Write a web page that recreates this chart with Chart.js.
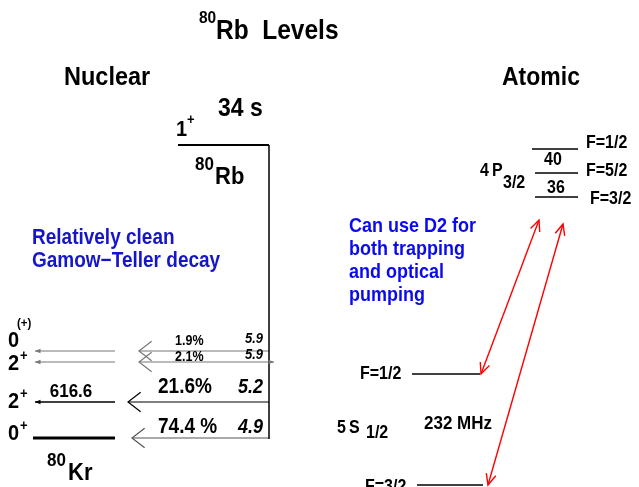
<!DOCTYPE html>
<html>
<head>
<meta charset="utf-8">
<script src="https://cdn.jsdelivr.net/npm/chart.js@4.4.1/dist/chart.umd.min.js"></script>
<style>
  html, body { margin: 0; padding: 0; background: #fff; }
  #wrap { width: 639px; height: 487px; }
</style>
</head>
<body>
<div id="wrap"><canvas id="levels" width="639" height="487"></canvas></div>
<script>
// 80Rb -> 80Kr beta decay levels, plus the Rb D2 hyperfine structure.
// Diagram units: x 0..639 left to right, y 0..487 top to bottom.

// --- nuclear side: 80Kr daughter levels, ground state first
const krSpin = ['0', '2', '2', '0'];
const krParity = ['+', '+', '+', '(+)'];
const krLevelY = [438, 402, 362, 351];
const krGamma = ['', '616.6', '', ''];
const branchPct = ['74.4 %', '21.6%', '2.1%', '1.9%'];
const logFt = ['4.9', '5.2', '5.9', '5.9'];

const parentSpin = '1';
const parentParity = '+';
const parentHalfLife = '34 s';
const parentLevelY = 145;

// --- atomic side: Rb 4P3/2 and 5S1/2 hyperfine levels
const p32Levels = ['F=3/2', 'F=5/2', 'F=1/2'];
const p32LevelY = [197, 173, 149];
const p32Splits = ['36', '40'];
const s12Levels = ['F=3/2', 'F=1/2'];
const s12LevelY = [485, 374];
const s12Split = '232 MHz';
// D2 lines: 5S1/2 F index -> end point on the 4P3/2 side
const d2From = [1, 0];
const d2ToY = [220, 224];

// ---------------------------------------------------------------
const FONT = '"Liberation Sans", Arial, Helvetica, sans-serif';
const STRETCH = 1.12;
const BLUE_L = '#1616c8';
const BLUE_R = '#0a0aee';

const datasets = [];
function seg(x0, y0, x1, y1, color, width, heads) {
    datasets.push({
        data: [{x: x0, y: y0}, {x: x1, y: y1}],
        showLine: true,
        borderColor: color,
        borderWidth: width,
        pointRadius: 0,
        fill: false,
        heads: heads || null
    });
}

// parent level and the decay trunk
seg(178, parentLevelY, 269, parentLevelY, '#000', 2);
seg(269, parentLevelY, 269, krLevelY[0] + 1, '#000', 1.5);

// daughter levels
const krWidth = [3, 1.3, 1.2, 1.2];
const krColor = ['#000', '#000', '#777', '#777'];
krLevelY.forEach((y, i) => {
    seg(115, y, i === 0 ? 33 : 35, y, krColor[i], krWidth[i],
        i === 0 ? null : {end: 'fill', color: krColor[i]});
});

// beta branches
const tipX = [132, 128, 139, 139];
const branchColor = ['#555', '#000', '#777', '#777'];
krLevelY.forEach((y, i) => {
    const heads = {end: 'open', color: branchColor[i], len: 16, ang: 0.66};
    if (i === 2) heads.start = 'fill';
    seg(i === 2 ? 274 : 269, y, tipX[i], y, branchColor[i], 1.2, heads);
});

// 4P3/2 levels
const p32X = [[535, 578], [535, 578], [532, 578]];
p32LevelY.forEach((y, i) => seg(p32X[i][0], y, p32X[i][1], y, '#000', 1.3));

// 5S1/2 levels
const s12X = [[417, 483], [412, 480]];
s12LevelY.forEach((y, i) => seg(s12X[i][0], y, s12X[i][1], y, '#000', 1.3));

// D2 transitions
const d2FromX = [481, 488];
const d2ToX = [539, 563];
d2From.forEach((f, i) => {
    seg(d2FromX[i], s12LevelY[f], d2ToX[i], d2ToY[i], '#ff0000', 1.4,
        {start: 'open', end: 'open', color: '#ff0000', len: 12, ang: 0.42});
});

// ---------------------------------------------------------------
const texts = [];
function t(x, y, text, size, opt) {
    texts.push(Object.assign({x, y, text, size}, opt || {}));
}

t(199, 18, '80', 15.5);
t(216, 31, 'Rb  Levels', 24.5);
t(64, 78, 'Nuclear', 23.5);
t(502, 78, 'Atomic', 23);

t(218, 109, parentHalfLife, 23);
t(176, parentLevelY - 15, parentSpin, 20);
t(187, parentLevelY - 25, parentParity, 13);
t(195, parentLevelY + 20, '80', 17);
t(215, parentLevelY + 32, 'Rb', 22);

t(32, 238, 'Relatively clean', 19, {color: BLUE_L});
t(32, 261, 'Gamow\u2212Teller decay', 19, {color: BLUE_L});

const spinDy = [-4, 0, 2, -10];
const parityDx = [20, 20, 20, 17];
const parityDy = [-12, -8, -6, -28];
krLevelY.forEach((y, i) => {
    t(8, y + spinDy[i], krSpin[i], 20);
    t(parityDx[i], y + parityDy[i], krParity[i], i === 3 ? 11.5 : 13);
    if (krGamma[i]) t(71, y - 10, krGamma[i], 17, {align: 'center'});
});

const pctX = [158, 158, 175, 175];
const pctDy = [-11, -15, -5, -10];
krLevelY.forEach((y, i) => {
    const big = i < 2;
    t(pctX[i], y + pctDy[i], branchPct[i], big ? 19 : 12.5);
    t(263, y + pctDy[i] + (big ? 0 : -2), logFt[i], big ? 18 : 13,
      {italic: true, align: 'right'});
});

t(47, 461, '80', 17);
t(68, 473, 'Kr', 22);

// atomic labels
const p32LabelX = [590, 586, 586];
const p32LabelDy = [2, -2, -6];
p32LevelY.forEach((y, i) => t(p32LabelX[i], y + p32LabelDy[i], p32Levels[i], 16));
t(556, 188, p32Splits[0], 16, {align: 'center'});
t(553, 160, p32Splits[1], 16, {align: 'center'});
t(480, 171, '4\u2009P', 16);
t(503, 183, '3/2', 16);

['Can use D2 for', 'both trapping', 'and optical', 'pumping'].forEach((s, i) => {
    t(349, 226 + 23 * i, s, 18, {color: BLUE_R});
});

t(365, s12LevelY[0] + 2, s12Levels[0], 16);
t(360, s12LevelY[1], s12Levels[1], 16);
t(337, 428, '5\u2009S', 16);
t(366, 433, '1/2', 16);
t(424, 424, s12Split, 17);

// ---------------------------------------------------------------
function px(chart, x, y) {
    return [chart.scales.x.getPixelForValue(x), chart.scales.y.getPixelForValue(y)];
}

const arrowHeads = {
    id: 'arrowHeads',
    afterDatasetsDraw(chart) {
        const ctx = chart.ctx;
        chart.data.datasets.forEach((ds, i) => {
            if (!ds.heads) return;
            const pts = chart.getDatasetMeta(i).data;
            const a = pts[0], b = pts[1];
            const h = ds.heads;
            const draw = (tip, from, kind) => {
                const ang = Math.atan2(tip.y - from.y, tip.x - from.x);
                ctx.save();
                ctx.strokeStyle = h.color;
                ctx.fillStyle = h.color;
                ctx.lineWidth = ds.borderWidth;
                if (kind === 'fill') {
                    const l = 6, w = 0.4;
                    ctx.beginPath();
                    ctx.moveTo(tip.x, tip.y);
                    ctx.lineTo(tip.x - l * Math.cos(ang - w), tip.y - l * Math.sin(ang - w));
                    ctx.lineTo(tip.x - l * Math.cos(ang + w), tip.y - l * Math.sin(ang + w));
                    ctx.closePath();
                    ctx.fill();
                } else {
                    const l = h.len || 12, w = h.ang || 0.5;
                    ctx.beginPath();
                    ctx.moveTo(tip.x - l * Math.cos(ang - w), tip.y - l * Math.sin(ang - w));
                    ctx.lineTo(tip.x, tip.y);
                    ctx.lineTo(tip.x - l * Math.cos(ang + w), tip.y - l * Math.sin(ang + w));
                    ctx.stroke();
                }
                ctx.restore();
            };
            if (h.end) draw(b, a, h.end);
            if (h.start) draw(a, b, h.start);
        });
    }
};

const labels = {
    id: 'labels',
    afterDraw(chart) {
        const ctx = chart.ctx;
        texts.forEach(tx => {
            const [x, y] = px(chart, tx.x, tx.y);
            ctx.save();
            ctx.font = (tx.italic ? 'italic ' : '') + 'bold ' + tx.size + 'px ' + FONT;
            ctx.fillStyle = tx.color || '#000';
            ctx.textAlign = tx.align || 'left';
            ctx.textBaseline = 'middle';
            ctx.translate(x, y);
            ctx.scale(1, STRETCH);
            ctx.fillText(tx.text, 0, 0);
            ctx.restore();
        });
    }
};

new Chart(document.getElementById('levels'), {
    type: 'scatter',
    data: {datasets: datasets},
    options: {
        responsive: false,
        animation: false,
        devicePixelRatio: 1,
        layout: {padding: 0},
        plugins: {legend: {display: false}, tooltip: {enabled: false}},
        scales: {
            x: {type: 'linear', min: 0, max: 639, display: false},
            y: {type: 'linear', min: 0, max: 487, reverse: true, display: false}
        },
        elements: {line: {borderCapStyle: 'butt', tension: 0}}
    },
    plugins: [arrowHeads, labels]
});
</script>
</body>
</html>
